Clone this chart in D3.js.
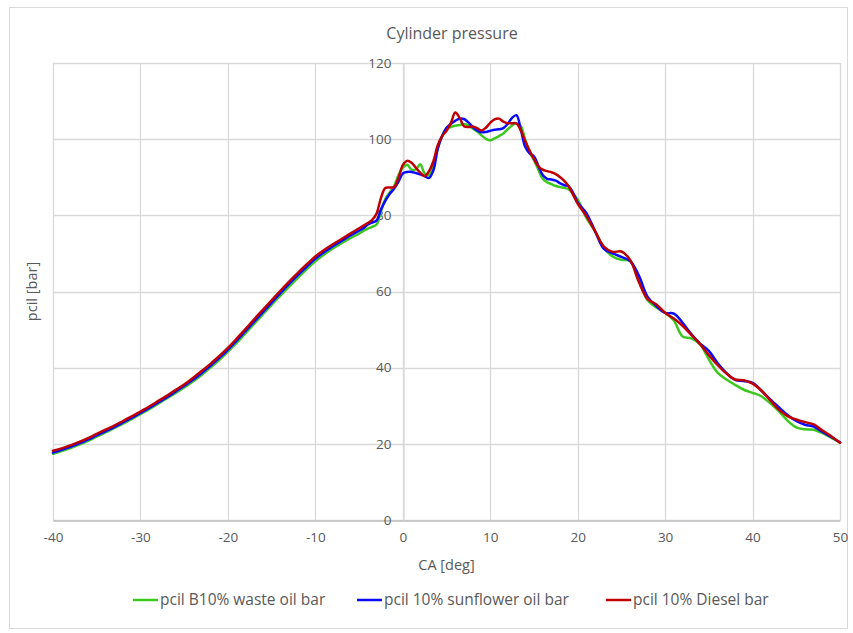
<!DOCTYPE html>
<html>
<head>
<meta charset="utf-8">
<script src="https://cdn.jsdelivr.net/npm/d3@7/dist/d3.min.js"></script>
<style>
  html, body { margin: 0; padding: 0; background: #fff; }
  svg { display: block; font-family: "Open Sans", "Liberation Sans", Arial, sans-serif; }
</style>
</head>
<body>
<svg id="chart" width="853" height="633"></svg>
<script>
// Crank angle samples [deg]
const angles = [
  -40,-39,-38,-37,-36,-35,-34,-33,-32,-31,-30,-29,-28,-27,-26,-25,-24,-23,-22,-21,
  -20,-19,-18,-17,-16,-15,-14,-13,-12,-11,-10,-9,-8,-7,-6,-5,
  -4.5,-4,-3.5,-3,-2.5,-2,-1.5,-1,-0.5,0,0.5,1,1.5,2,2.5,3,3.5,4,4.5,5,5.5,6,6.5,7,7.5,
  8,8.5,9,9.5,10,10.5,11,11.5,12,12.5,13,13.5,14,14.5,15,15.5,16,16.5,17,17.5,18,18.5,19,19.5,20,
  21,22,23,24,25,26,27,28,29,30,31,32,33,34,35,36,37,38,39,40,41,42,43,44,45,46,47,48,49,50
];

// Cylinder pressure [bar], B10% waste oil
const wasteOil = [
  17.4,18.1,18.9,19.8,20.8,21.9,23.0,24.1,25.3,26.5,27.8,29.1,30.5,31.9,33.3,34.8,36.4,38.1,40.0,42.0,
  44.2,46.5,49.0,51.5,54.0,56.5,58.9,61.3,63.6,65.8,67.9,69.7,71.3,72.7,74.0,75.2,
  75.9,76.5,77.0,77.6,81.0,84.3,86.0,87.6,90.5,92.5,93.3,92.0,92.1,93.4,91.0,90.6,93.0,97.6,100.8,102.8,103.2,103.5,103.7,103.9,103.6,
  102.8,102.0,101.0,100.1,99.7,100.2,100.8,101.5,102.6,103.6,104.2,103.4,99.8,96.6,94.5,92.0,89.6,88.7,88.2,87.7,87.4,87.2,86.8,85.5,84.2,
  79.3,75.8,71.5,69.2,68.3,68.0,62.8,57.7,55.8,54.4,52.4,48.2,47.7,46.1,42.2,38.7,36.9,35.5,34.2,33.4,32.5,30.7,28.6,26.1,24.3,23.8,23.7,22.8,21.6,20.3
];

// Cylinder pressure [bar], 10% sunflower oil
const sunflowerOil = [
  17.7,18.4,19.2,20.1,21.1,22.2,23.3,24.4,25.6,26.8,28.1,29.4,30.8,32.2,33.7,35.2,36.8,38.6,40.5,42.5,
  44.7,47.1,49.6,52.1,54.6,57.1,59.6,62.0,64.3,66.5,68.6,70.3,71.9,73.3,74.7,76.0,
  76.6,77.6,78.1,78.6,81.5,83.8,85.6,87.0,88.8,91.0,91.4,91.4,91.1,90.8,90.3,89.8,91.8,97.5,100.8,103.0,104.0,104.8,105.4,105.3,104.4,
  103.2,102.3,101.8,101.9,102.2,102.5,102.6,102.9,104.0,105.6,106.3,102.5,98.0,96.3,95.5,93.0,90.6,89.6,89.4,89.1,88.4,87.9,87.6,85.8,83.4,
  80.6,75.8,71.2,70.0,69.1,68.0,64.2,58.6,56.2,54.4,54.2,51.8,48.8,46.3,44.4,41.2,38.6,36.8,36.5,36.0,34.0,31.7,29.6,27.6,26.0,25.0,24.5,23.1,21.8,20.4
];

// Cylinder pressure [bar], 10% Diesel
const diesel = [
  18.2,18.8,19.6,20.5,21.5,22.6,23.7,24.8,26.0,27.2,28.5,29.8,31.2,32.6,34.1,35.6,37.3,39.1,41.0,43.0,
  45.2,47.6,50.1,52.7,55.2,57.7,60.2,62.6,64.9,67.1,69.2,70.9,72.4,73.8,75.2,76.6,
  77.3,78.0,78.8,80.5,84.5,87.2,87.3,87.4,89.8,93.2,94.3,93.8,92.5,91.2,90.3,91.6,94.2,98.4,100.8,102.2,104.2,107.0,105.6,103.4,103.2,
  103.3,102.9,102.3,103.0,104.3,105.2,105.4,104.6,104.2,104.2,104.1,102.3,99.5,97.0,94.8,92.9,92.0,91.6,91.3,90.8,90.0,89.0,87.5,85.3,83.1,
  79.8,75.8,71.8,70.4,70.5,68.3,62.5,58.0,56.6,54.4,52.9,51.0,48.6,46.2,43.3,40.7,38.5,36.9,36.7,35.8,34.0,31.5,29.0,27.3,26.4,25.7,25.1,23.5,22.0,20.3
];

const seriesNames = ["pcil B10% waste oil bar", "pcil 10% sunflower oil bar", "pcil 10% Diesel bar"];
const seriesColors = ["#3cc81e", "#0a0aff", "#c00000"];
const seriesValues = [wasteOil, sunflowerOil, diesel];

const xTicks = [-40,-30,-20,-10,0,10,20,30,40,50];
const yTicks = [0,20,40,60,80,100,120];

const svg = d3.select("#chart");
const W = 853, H = 633;
const plot = { left: 53, right: 840, top: 63, bottom: 520 };

const x = d3.scaleLinear().domain([-40, 50]).range([plot.left, plot.right]);
const y = d3.scaleLinear().domain([0, 120]).range([plot.bottom, plot.top]);

const textColor = "#595959";
const gridColor = "#d9d9d9";
const fontFamily = "'Open Sans', 'Liberation Sans', Arial, sans-serif";

// chart frame
svg.append("rect")
  .attr("x", 9.5).attr("y", 7.5)
  .attr("width", W - 15).attr("height", H - 12)
  .attr("fill", "#fff").attr("stroke", gridColor).attr("stroke-width", 1);

// gridlines
const grid = svg.append("g");
grid.selectAll("line.h").data(yTicks).join("line")
  .attr("x1", plot.left).attr("x2", plot.right)
  .attr("y1", d => Math.round(y(d)) + 0.5).attr("y2", d => Math.round(y(d)) + 0.5)
  .attr("stroke", gridColor).attr("stroke-width", 1.3);
grid.selectAll("line.v").data(xTicks).join("line")
  .attr("y1", plot.top).attr("y2", plot.bottom)
  .attr("x1", d => Math.round(x(d)) + 0.5).attr("x2", d => Math.round(x(d)) + 0.5)
  .attr("stroke", gridColor).attr("stroke-width", 1.3);

// x axis along the bottom (plain hyphen minus signs)
const xAxis = svg.append("g")
  .attr("transform", `translate(0,${plot.bottom + 0.5})`)
  .call(d3.axisBottom(x).tickValues(xTicks).tickSize(0).tickPadding(12).tickFormat(d => String(d)));
xAxis.select(".domain").attr("stroke", "#bfbfbf").attr("stroke-width", 1.3);
xAxis.selectAll("text").attr("fill", textColor).style("font-size", "13.5px")
  .style("font-family", fontFamily);

// y axis crossing at CA = 0
const yAxis = svg.append("g")
  .attr("transform", `translate(${Math.round(x(0)) + 0.5},0)`)
  .call(d3.axisLeft(y).tickValues(yTicks).tickSize(0).tickPadding(12).tickFormat(d => String(d)));
yAxis.select(".domain").attr("stroke", gridColor).attr("stroke-width", 1.3);
yAxis.selectAll("text").attr("fill", textColor).style("font-size", "13.5px")
  .style("font-family", fontFamily);

// pressure curves
const line = d3.line()
  .x(d => x(d[0]))
  .y(d => y(d[1]))
  .curve(d3.curveCatmullRom.alpha(0.5));

seriesValues.forEach((vals, i) => {
  svg.append("path")
    .datum(angles.map((a, k) => [a, vals[k]]))
    .attr("fill", "none")
    .attr("stroke", seriesColors[i])
    .attr("stroke-width", 2.5)
    .attr("stroke-linejoin", "round")
    .attr("stroke-linecap", "round")
    .attr("d", line);
});

// titles
svg.append("text")
  .attr("x", 452).attr("y", 39)
  .attr("text-anchor", "middle")
  .attr("fill", textColor)
  .style("font-size", "16px")
  .text("Cylinder pressure");

svg.append("text")
  .attr("transform", `translate(37,${(plot.top + plot.bottom) / 2}) rotate(-90)`)
  .attr("text-anchor", "middle")
  .attr("fill", textColor)
  .style("font-size", "14.5px")
  .text("pcil [bar]");

svg.append("text")
  .attr("x", (plot.left + plot.right) / 2).attr("y", 570)
  .attr("text-anchor", "middle")
  .attr("fill", textColor)
  .style("font-size", "14.5px")
  .text("CA [deg]");

// legend
const legendX = [133, 357, 606];
const legend = svg.append("g").attr("transform", "translate(0,600)");
seriesNames.forEach((name, i) => {
  const g = legend.append("g").attr("transform", `translate(${legendX[i]},0)`);
  g.append("line").attr("x1", 0).attr("x2", 25).attr("y1", 0).attr("y2", 0)
    .attr("stroke", seriesColors[i]).attr("stroke-width", 2.5);
  g.append("text").attr("x", 27).attr("y", 5)
    .attr("fill", textColor).style("font-size", "15.5px")
    .text(name);
});
</script>
</body>
</html>
